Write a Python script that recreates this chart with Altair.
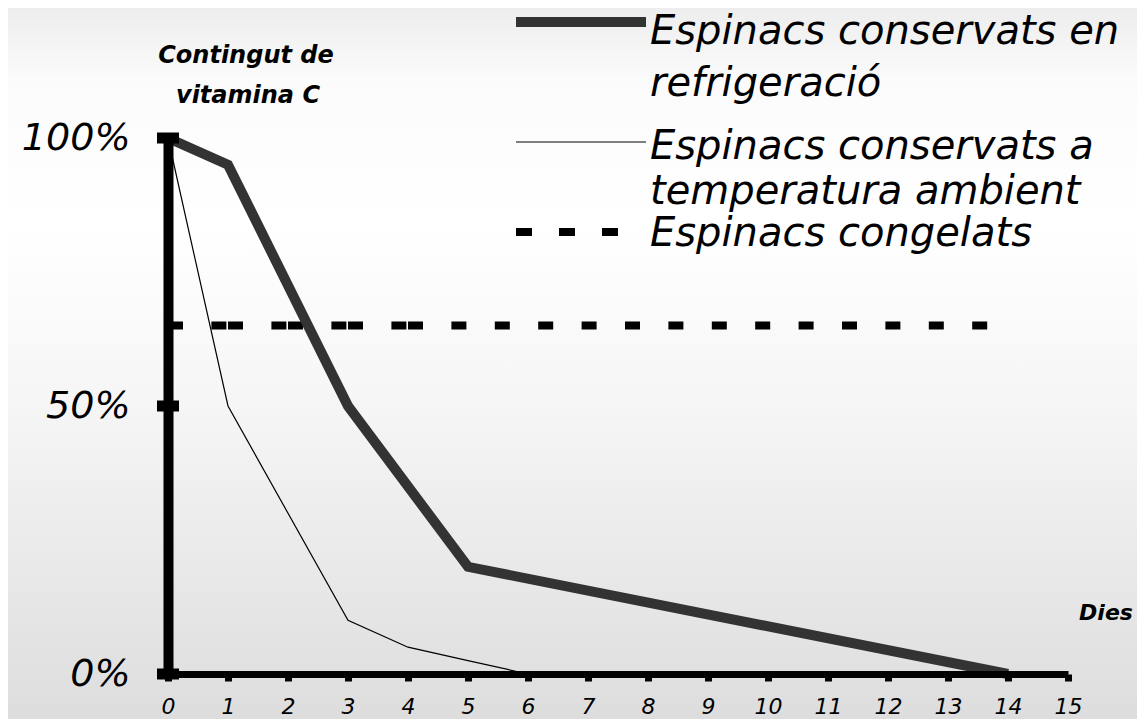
import altair as alt
import pandas as pd

# ---- data ----
days_refrig = [0, 1, 3, 5, 14]
vit_refrig = [100, 95, 50, 20, 0]

days_amb = [0, 1, 3, 4, 5, 6]
vit_amb = [100, 50, 10, 5, 2.5, 0]

days_frozen = [0, 1, 2, 3, 4, 14]
vit_frozen = [65, 65, 65, 65, 65, 65]

x_ticks = list(range(0, 16))
y_ticks = [0, 50, 100]

legend_labels = [
    ["Espinacs conservats en", "refrigeració"],
    ["Espinacs conservats a", "temperatura ambient"],
    ["Espinacs congelats"],
]
y_title = ["Contingut de", "vitamina C"]
x_title = "Dies"

W, H = 900, 536
TOP = 130
FONT = "DejaVu Sans"

xs = alt.Scale(domain=[0, 15], nice=False)
ys = alt.Scale(domain=[0, 100], nice=False)

df_r = pd.DataFrame({"dia": days_refrig, "v": vit_refrig})
df_a = pd.DataFrame({"dia": days_amb, "v": vit_amb})
# frozen series: each interval between sampled days is its own segment
rows = []
for i in range(len(days_frozen) - 1):
    rows.append({"dia": days_frozen[i], "v": vit_frozen[i], "seg": i})
    rows.append({"dia": days_frozen[i + 1], "v": vit_frozen[i + 1], "seg": i})
df_f = pd.DataFrame(rows)
df_yt = pd.DataFrame({"dia": [0] * len(y_ticks), "v": y_ticks})
one = pd.DataFrame({"k": [0]})

# background gradient
bg = alt.Chart(one).mark_rect(
    color=alt.LinearGradient(
        gradient="linear",
        stops=[
            alt.GradientStop(color="#ededed", offset=0),
            alt.GradientStop(color="#fbfbfb", offset=0.1),
            alt.GradientStop(color="#ffffff", offset=0.3),
            alt.GradientStop(color="#f6f6f6", offset=0.55),
            alt.GradientStop(color="#dddddd", offset=1),
        ],
        x1=0, x2=0, y1=0, y2=1,
    )
).encode(
    x=alt.value(-160), x2=alt.value(W + 69),
    y=alt.value(-TOP), y2=alt.value(H + 45),
)

x_enc = alt.X("dia:Q", scale=xs, axis=alt.Axis(
    values=x_ticks, format="d", title=None, grid=False, zindex=1,
    domainColor="black", domainWidth=7,
    tickColor="black", tickWidth=7, tickSize=7,
    labelFont=FONT, labelFontStyle="italic", labelFontSize=22,
    labelColor="black", labelPadding=15, labelFlush=False,
))
y_enc = alt.Y("v:Q", scale=ys, axis=alt.Axis(
    values=y_ticks, title=None, grid=False, zindex=1,
    domainColor="black", domainWidth=10, ticks=False,
    labelFont=FONT, labelFontStyle="italic", labelFontSize=38,
    labelColor="black", labelPadding=38, labelExpr="datum.value + '%'",
))

frozen = alt.Chart(df_f).mark_line(
    color="black", strokeWidth=8, strokeDash=[15, 28.4], strokeCap="butt",
).encode(x=x_enc, y=y_enc, detail="seg:N")

amb = alt.Chart(df_a).mark_line(color="black", strokeWidth=1.2).encode(x="dia:Q", y="v:Q")

refr = alt.Chart(df_r).mark_line(color="#333333", strokeWidth=10, strokeJoin="miter").encode(
    x="dia:Q", y="v:Q")

yt = alt.Chart(df_yt).mark_tick(
    orient="horizontal", size=22, thickness=11, color="black", opacity=1
).encode(x="dia:Q", y="v:Q")

# legend / annotations, positioned in page pixels relative to plot origin
OY = 8 + TOP  # page y of plot top
OX = 168      # page x of plot left

def rule(x1, x2, y, **kw):
    return alt.Chart(one).mark_rule(**kw).encode(
        x=alt.value(x1 - OX), x2=alt.value(x2 - OX), y=alt.value(y - OY))

def txt(s, x, y, size, weight="normal", align="left"):
    return alt.Chart(one).mark_text(
        text=s, font=FONT, fontSize=size, fontStyle="italic", fontWeight=weight,
        align=align, baseline="alphabetic", color="black",
    ).encode(x=alt.value(x - OX), y=alt.value(y - OY))

leg = [
    rule(516, 646, 22, color="#333333", strokeWidth=10),
    rule(516, 646, 142, color="black", strokeWidth=1),
    rule(516, 618, 232, color="black", strokeWidth=8, strokeDash=[16, 27], strokeCap="butt"),
    txt(legend_labels[0][0], 650, 44, 40),
    txt(legend_labels[0][1], 650, 96, 40),
    txt(legend_labels[1][0], 650, 159, 40),
    txt(legend_labels[1][1], 650, 204, 40),
    txt(legend_labels[2][0], 650, 246, 40),
    txt(y_title[0], 246, 63, 24, "bold", "center"),
    txt(y_title[1], 248, 103, 24, "bold", "center"),
    txt(x_title, 1106, 620, 22, "bold", "center"),
]

chart = alt.layer(bg, frozen, amb, refr, yt, *leg).properties(
    width=W, height=H,
    autosize=alt.AutoSizeParams(type="none"),
    padding={"left": 160, "top": TOP, "right": 69, "bottom": 45},
    background="#e6e6e6",
).configure_view(strokeWidth=0)

chart.save("out.html", embed_options={"renderer": "svg", "actions": False})
